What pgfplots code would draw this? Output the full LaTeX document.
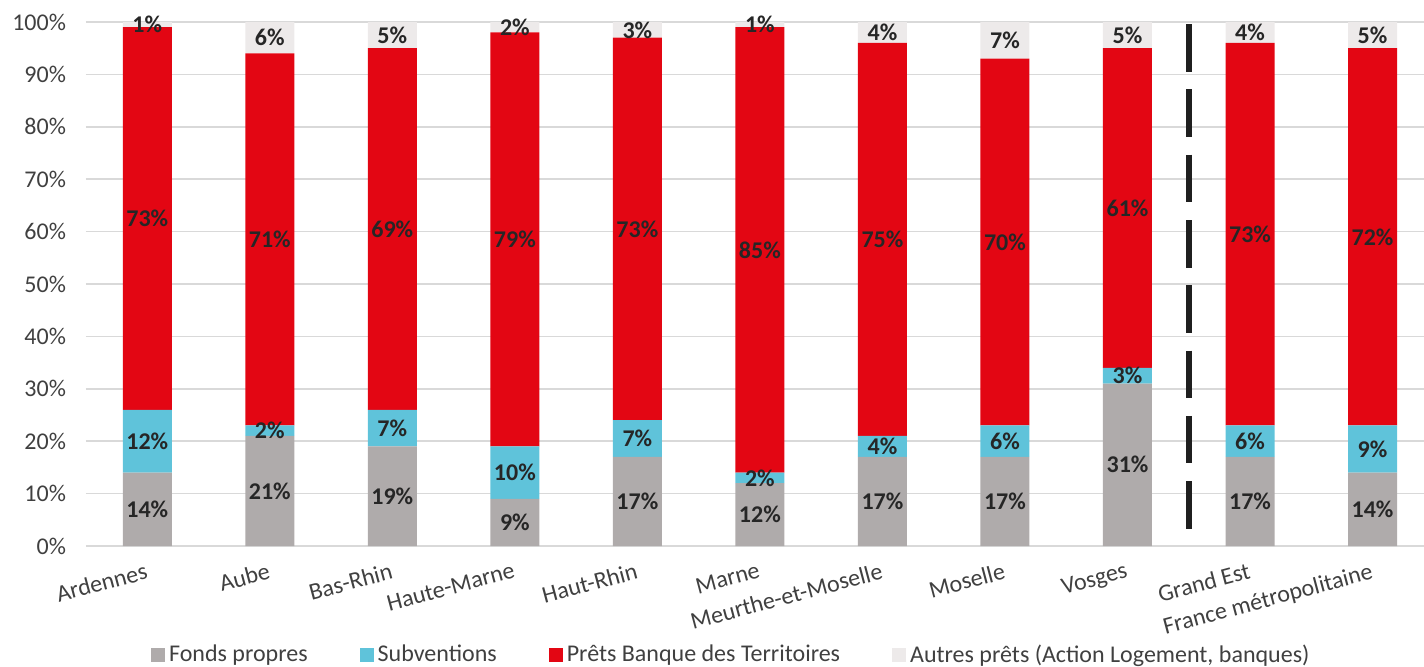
\documentclass[border=0pt]{standalone}
\usepackage{pgfplots}
\pgfplotsset{compat=1.18}
\usepackage{pgfplotstable}
\usepackage{fontspec}
\setmainfont{Carlito}
\definecolor{cfp}{HTML}{AFABAB}
\definecolor{csub}{HTML}{5FC3DA}
\definecolor{cpret}{HTML}{E30613}
\definecolor{caut}{HTML}{EDEAEA}
\definecolor{cgrid}{HTML}{D9D9D9}
\definecolor{ctxt}{HTML}{404040}
\definecolor{clab}{HTML}{262626}
\pgfplotstableread{
x fp sub pret aut
0 14 12 73 1
1 21 2 71 6
2 19 7 69 5
3 9 10 79 2
4 17 7 73 3
5 12 2 85 1
6 17 4 75 4
7 17 6 70 7
8 31 3 61 5
9 17 6 73 4
10 14 9 72 5
}\data
\pgfplotsset{legsq/.style={legend image code/.code={\fill[#1] (0pt,-3.5pt) rectangle (7pt,3.5pt);}}}
\begin{document}
\begin{tikzpicture}
\begin{axis}[
 name=ax,
 scale only axis, width=669pt, height=262pt,
 xmin=-0.5, xmax=10.42, ymin=0, ymax=100,
 ybar stacked, bar width=24.5pt,
 xtick={0,...,10},
 xticklabels={Ardennes,Aube,Bas-Rhin,Haute-Marne,Haut-Rhin,Marne,Meurthe-et-Moselle,Moselle,Vosges,Grand Est,France métropolitaine},
 ytick={0,10,...,100},
 yticklabel={\pgfmathprintnumber{\tick}\%},
 /pgf/number format/assume math mode=true,
 axis line style={draw=none},
 major tick length=0pt,
 ymajorgrids, grid style={cgrid, line width=0.75pt},
 tick label style={font=\fontsize{12}{14}\selectfont, text=ctxt},
 xticklabel style={rotate=15, anchor=north east, yshift=-4pt},
 yticklabel style={xshift=-6.5pt},
 clip=false,
 legend columns=4,
 legend style={at={(0.483,-0.208)}, anchor=center, draw=none, fill=none,
   font=\fontsize{12}{14}\selectfont, text=ctxt,
   /tikz/every even column/.append style={column sep=24pt}},
]
\addplot[fill=cfp, draw=none, legsq=cfp] table[x=x, y=fp] {\data};
\addplot[fill=csub, draw=none, legsq=csub] table[x=x, y=sub] {\data};
\addplot[fill=cpret, draw=none, legsq=cpret] table[x=x, y=pret] {\data};
\addplot[fill=caut, draw=none, legsq=caut] table[x=x, y=aut] {\data};
\legend{Fonds propres, Subventions, Prêts Banque des Territoires, {Autres prêts (Action Logement, banques)}}
\draw[black!88, line width=3pt, dash pattern=on 23.75pt off 8.9pt] (axis cs:8.5,99.6) -- (axis cs:8.5,2.6);
\end{axis}
\begin{axis}[
 at={(ax.south west)}, anchor=south west,
 scale only axis, width=669pt, height=262pt,
 xmin=-0.5, xmax=10.42, ymin=0, ymax=100,
 hide axis, clip=false,
 /pgf/number format/assume math mode=true,
 point meta=explicit,
 nodes near coords={\pgfmathprintnumber{\pgfplotspointmeta}\%},
 nodes near coords style={font=\bfseries\fontsize{12}{14}\selectfont, text=clab, anchor=center, inner sep=0pt},
]
\addplot[only marks, mark=none] table[x=x, y expr=\thisrow{fp}/2, meta=fp] {\data};
\addplot[only marks, mark=none] table[x=x, y expr=\thisrow{fp}+\thisrow{sub}/2, meta=sub] {\data};
\addplot[only marks, mark=none] table[x=x, y expr=\thisrow{fp}+\thisrow{sub}+\thisrow{pret}/2, meta=pret] {\data};
\addplot[only marks, mark=none] table[x=x, y expr=\thisrow{fp}+\thisrow{sub}+\thisrow{pret}+\thisrow{aut}/2, meta=aut] {\data};
\end{axis}
\pgfresetboundingbox
\path[use as bounding box] ([xshift=-43pt,yshift=-60pt]ax.south west) rectangle ([xshift=669pt,yshift=273pt]ax.south west);
\end{tikzpicture}
\end{document}
